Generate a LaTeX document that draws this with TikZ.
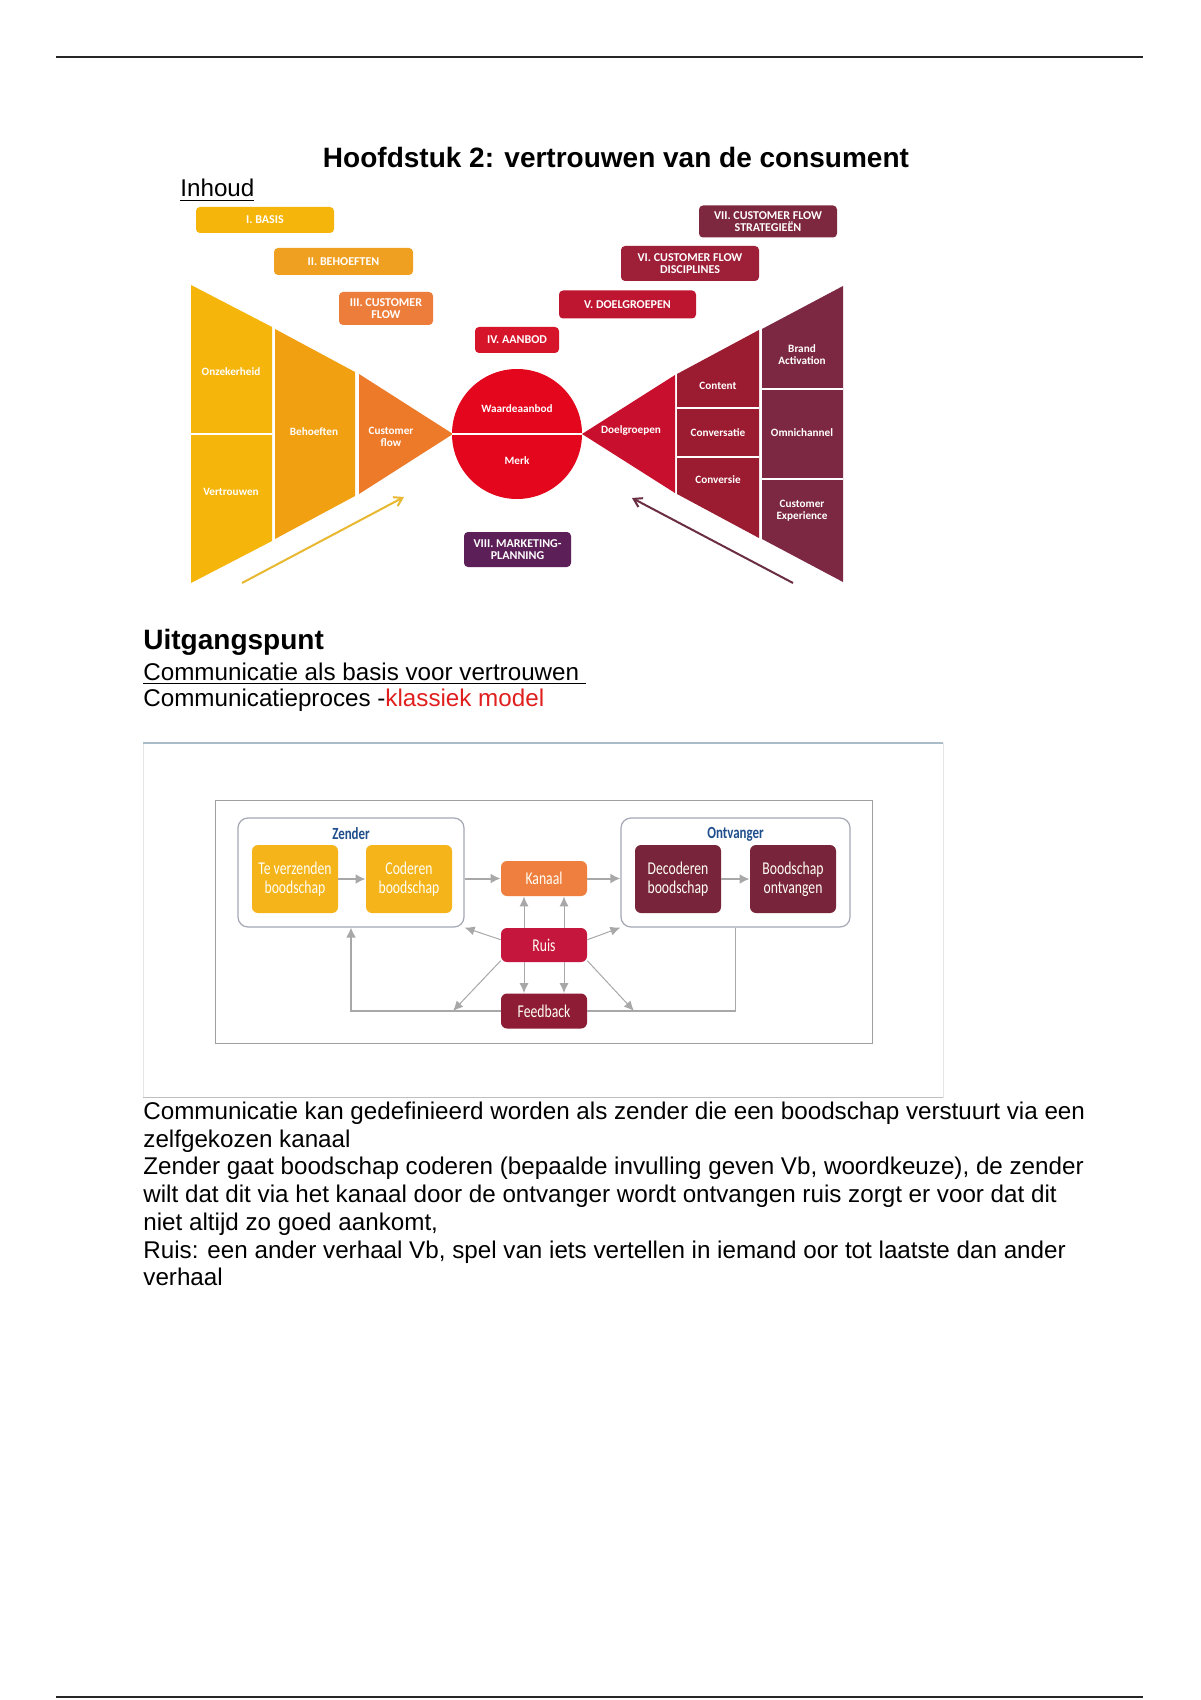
\documentclass[tikz,border=0pt]{standalone}
\usepackage{fontspec}
\usepackage{graphicx}
\setmainfont{Liberation Sans}
\newfontfamily\cfont{Carlito}
\usetikzlibrary{arrows.meta}
\definecolor{cyel}{HTML}{F5B50A}
\definecolor{corg}{HTML}{F0A010}
\definecolor{corg2}{HTML}{EC7A28}
\definecolor{cred}{HTML}{E3061C}
\definecolor{cdg}{HTML}{C8102E}
\definecolor{cr2}{HTML}{9B1B30}
\definecolor{cr3}{HTML}{7D2843}
\definecolor{lI}{HTML}{F5B50A}
\definecolor{lII}{HTML}{F0A020}
\definecolor{lIII}{HTML}{EC7D3A}
\definecolor{lIV}{HTML}{D7152A}
\definecolor{lV}{HTML}{BE1530}
\definecolor{lVI}{HTML}{9E1F38}
\definecolor{lVII}{HTML}{7E2840}
\definecolor{lVIII}{HTML}{5C1F58}
\definecolor{ayel}{HTML}{E8B830}
\definecolor{adark}{HTML}{6B2D42}
\definecolor{kred}{HTML}{E0201E}
\definecolor{cyb}{HTML}{F5B41A}
\definecolor{ckan}{HTML}{EF7F3E}
\definecolor{cruis}{HTML}{C5173E}
\definecolor{cfb}{HTML}{8E1C35}
\definecolor{cdec}{HTML}{78243A}
\definecolor{conngray}{HTML}{A8A8A8}
\definecolor{grpline}{HTML}{A4A8B4}
\definecolor{zblue}{HTML}{1F4E8C}
\definecolor{framebl}{HTML}{A9BCC8}
\newcommand{\cnd}[1]{\scalebox{0.76}[1]{#1}}
\tikzset{
  txt/.style={anchor=base west, inner sep=0pt, font=\fontsize{12.1}{13.8}\selectfont},
  lab/.style={rounded corners=2pt, text=white, align=center, inner sep=0pt, font=\cfont\bfseries\fontsize{6}{6}\selectfont},
  fun/.style={text=white, align=center, inner sep=0pt, font=\cfont\bfseries\fontsize{5.6}{6}\selectfont},
  sepline/.style={draw=white, line width=1pt},
  cbox/.style={rounded corners=3pt, text=white!96!yellow, align=center, inner sep=0pt, font=\cfont\fontsize{9}{9.5}\selectfont},
  grp/.style={draw=grpline, rounded corners=5pt, line width=0.6pt},
  conn/.style={draw=conngray, line width=1pt, -{Latex[length=5pt,width=5pt]}},
  dconn/.style={draw=conngray, line width=0.5pt, -{Latex[length=5pt,width=4.5pt]}},
  loopline/.style={draw=conngray, line width=0.8pt},
}
\begin{document}
\begin{tikzpicture}[x=0.5pt,y=-0.5pt]
\useasboundingbox (0,0) rectangle (1200,1700);
\fill[white] (0,0) rectangle (1200,1700);
% page rules
\draw[line width=1.2pt, color=black!85] (56,57) -- (1143,57);
\draw[line width=1.2pt, color=black!85] (56,1697) -- (1143,1697);

% headings
\node[anchor=base, inner sep=0pt, font=\bfseries\fontsize{14}{16}\selectfont] (title) at (616,168) {Hoofdstuk 2: vertrouwen van de consument};
\node[txt] (inhoud) at (180,197) {\underline{Inhoud}};

% ---------- funnel ----------
\fill[cyel] (191,285) -- (272,327) -- (272,541) -- (191,583) -- cycle;
\draw[sepline] (191,434) -- (272,434);
\fill[corg] (275,329) -- (355,372) -- (355,496) -- (275,539) -- cycle;
\fill[corg2] (359,374) -- (453,434) -- (359,494) -- cycle;
\node[circle, fill=cred, minimum size=65pt, inner sep=0pt] (circ) at (517,434) {};
\draw[sepline, line width=1.2pt] (circ.west) -- (circ.east);
\fill[cdg] (582,434) -- (675,375) -- (675,493) -- cycle;
\fill[cr2] (677,374) -- (759,330) -- (759,538) -- (677,494) -- cycle;
\draw[sepline] (677,408) -- (759,408);
\draw[sepline] (677,457) -- (759,457);
\fill[cr3] (762,329) -- (843,286) -- (843,582) -- (762,539) -- cycle;
\draw[sepline] (762,389) -- (843,389);
\draw[sepline] (762,479) -- (843,479);

\node[fun] (onz) at (231,372) {Onzekerheid};
\node[fun] (vert) at (231,492) {Vertrouwen};
\node[fun] (beh) at (314,432) {Behoeften};
\node[fun] (cflow) at (391,437) {Customer\\flow};
\node[fun] (waa) at (517,409) {Waardeaanbod};
\node[fun] (merk) at (517,461) {Merk};
\node[fun] (doel) at (631,431) {Doelgroepen};
\node[fun] (cont) at (718,386) {Content};
\node[fun] (convs) at (718,433) {Conversatie};
\node[fun] (conv) at (718,480) {Conversie};
\node[fun] (brand) at (802,355) {Brand\\Activation};
\node[fun] (omni) at (802,433) {Omnichannel};
\node[fun] (cexp) at (802,511) {Customer\\Experience};

% labels
\node[lab, fill=lI, minimum width=69pt, minimum height=13pt] (l1) at (265,220) {I. BASIS};
\node[lab, fill=lII, minimum width=69.5pt, minimum height=13.5pt] (l2) at (343.5,261.5) {II. BEHOEFTEN};
\node[lab, fill=lIII, minimum width=47pt, minimum height=16.5pt] (l3) at (386,308.5) {III. CUSTOMER\\FLOW};
\node[lab, fill=lIV, minimum width=42pt, minimum height=13pt] (l4) at (517,340) {IV. AANBOD};
\node[lab, fill=lV, minimum width=68.5pt, minimum height=14pt] (l5) at (627.5,304.5) {V. DOELGROEPEN};
\node[lab, fill=lVI, minimum width=69pt, minimum height=17.5pt] (l6) at (690,263.5) {VI. CUSTOMER FLOW\\DISCIPLINES};
\node[lab, fill=lVII, minimum width=69pt, minimum height=16pt] (l7) at (768,221.5) {VII. CUSTOMER FLOW\\STRATEGIEËN};
\node[lab, fill=lVIII, minimum width=53.5pt, minimum height=17.5pt] (l8) at (517.5,549.5) {VIII. MARKETING-\\PLANNING};

% funnel arrows
\coordinate (ya1) at (242,583);
\coordinate (ya2) at (404,497);
\draw[ayel, line width=1pt, -{Straight Barb[length=4pt,width=5pt]}] (ya1) -- (ya2);
\coordinate (da1) at (793,583);
\coordinate (da2) at (632,498);
\draw[adark, line width=1pt, -{Straight Barb[length=4pt,width=5pt]}] (da1) -- (da2);

% ---------- section text ----------
\node[anchor=base west, inner sep=0pt, font=\bfseries\fontsize{14}{16}\selectfont] (uitg) at (143,649) {Uitgangspunt};
\node[txt] (sub1) at (143,680) {\underline{Communicatie als basis voor vertrouwen\ }};
\node[txt] (sub2) at (143,706) {Communicatieproces -{\color{kred}klassiek model}};

% ---------- communication model ----------
\draw[color=black!10, line width=0.5pt] (143,743) rectangle (943,1097);
\draw[color=framebl, line width=0.6pt] (143,743) -- (943,743);
\draw[color=gray!50, line width=0.5pt] (143,1097) -- (943,1097);
\draw[color=gray!75, line width=0.5pt] (215,800) rectangle (872,1043);

\node[grp, minimum width=113pt, minimum height=54.5pt] (zender) at (351,872.5) {};
\node[grp, minimum width=114.5pt, minimum height=54.5pt] (ontv) at (735.5,872.5) {};
\node[inner sep=0pt, text=zblue, font=\cfont\bfseries\fontsize{8.5}{9}\selectfont] (zlab) at (351,834) {\cnd{Zender}};
\node[inner sep=0pt, text=zblue, font=\cfont\bfseries\fontsize{8.5}{9}\selectfont] (olab) at (735.5,834) {\cnd{Ontvanger}};

\node[cbox, fill=cyb, minimum width=43pt, minimum height=34pt] (tv) at (295,879) {\cnd{Te verzenden}\\\cnd{boodschap}};
\node[cbox, fill=cyb, minimum width=43pt, minimum height=34pt] (cod) at (409,879) {\cnd{Coderen}\\\cnd{boodschap}};
\node[cbox, fill=ckan, minimum width=43pt, minimum height=17.5pt] (kan) at (544,878.5) {\cnd{Kanaal}};
\node[cbox, fill=cdec, minimum width=43pt, minimum height=34pt] (dec) at (678,879) {\cnd{Decoderen}\\\cnd{boodschap}};
\node[cbox, fill=cdec, minimum width=43pt, minimum height=34pt] (bo) at (793,879) {\cnd{Boodschap}\\\cnd{ontvangen}};
\node[cbox, fill=cruis, minimum width=43pt, minimum height=17pt] (ruis) at (544,945) {\cnd{Ruis}};
\node[cbox, fill=cfb, minimum width=43pt, minimum height=17.5pt] (fb) at (544,1011) {\cnd{Feedback}};

\draw[conn] (tv.east) -- (cod.west);
\draw[conn] (zender.east |- kan.west) -- (kan.west);
\draw[conn] (kan.east) -- (ontv.west |- kan.east);
\draw[conn] (dec.east) -- (bo.west);
\draw[dconn] ([xshift=-10pt]ruis.north) -- ([xshift=-10pt]kan.south);
\draw[dconn] ([xshift=10pt]ruis.north) -- ([xshift=10pt]kan.south);
\draw[dconn] ([xshift=-10pt]ruis.south) -- ([xshift=-10pt]fb.north);
\draw[dconn] ([xshift=10pt]ruis.south) -- ([xshift=10pt]fb.north);
\draw[dconn] (ruis.173) -- (zender.south east);
\draw[dconn] (ruis.7) -- (ontv.south west);
\coordinate (dl) at (453,1011);
\coordinate (dr) at (634,1011);
\draw[dconn] (ruis.200) -- (dl);
\draw[dconn] (ruis.340) -- (dr);
\draw[loopline] (ontv.south) -- (ontv.south |- fb.east) -- (fb.east);
\draw[loopline, -{Latex[length=5pt,width=5pt]}] (fb.west) -- (fb.west -| zender.south) -- (zender.south);

% ---------- paragraph ----------
\node[txt] (p1) at (143,1119) {Communicatie kan gedefinieerd worden als zender die een boodschap verstuurt via een};
\node[txt] (p2) at (143,1147) {zelfgekozen kanaal};
\node[txt] (p3) at (143,1174) {Zender gaat boodschap coderen (bepaalde invulling geven Vb, woordkeuze), de zender};
\node[txt] (p4) at (143,1202) {wilt dat dit via het kanaal door de ontvanger wordt ontvangen ruis zorgt er voor dat dit};
\node[txt] (p5) at (143,1230) {niet altijd zo goed aankomt,};
\node[txt] (p6) at (143,1258) {Ruis: een ander verhaal Vb, spel van iets vertellen in iemand oor tot laatste dan ander};
\node[txt] (p7) at (143,1285) {verhaal};
\end{tikzpicture}
\end{document}
